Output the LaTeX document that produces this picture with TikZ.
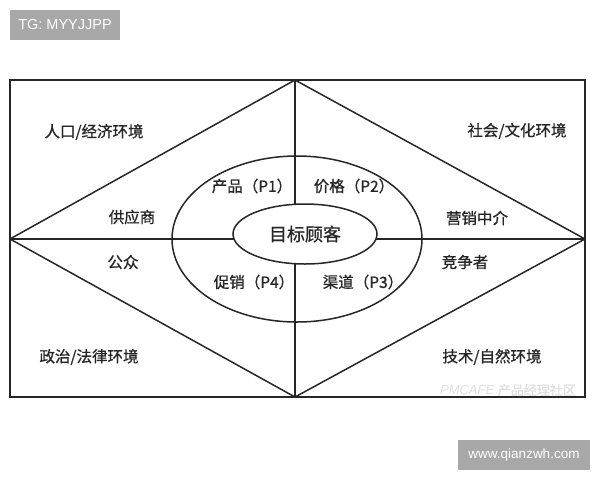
\documentclass[tikz,border=0pt]{standalone}
\usepackage{fontspec}
\setmainfont{Liberation Sans}
\newfontfamily\cjk[FakeBold=0.8]{Noto Sans CJK SC}
\usetikzlibrary{shapes.geometric}
\begin{document}
\begin{tikzpicture}[x=1pt,y=-1pt,
  ln/.style={line width=1.5pt, draw=black!85},
  lbl/.style={font=\cjk\fontsize{15.5}{17}\selectfont, inner sep=0pt, text=black!85},
  tag/.style={fill=black!34, text=white, inner sep=0pt}]
\useasboundingbox (0,0) rectangle (600,480);
% corners and vertices
\coordinate (TL) at (10,80);
\coordinate (BR) at (585,397);
\coordinate (L) at (10,239);
\coordinate (T) at (295,80);
\coordinate (R) at (585,239);
\coordinate (B) at (295,397);
% frame and diamond
\draw[ln] (TL) rectangle (BR);
\draw[ln, line join=round] (L) -- (T) -- (R) -- (B) -- cycle;
\draw[ln] (L) -- (R);
\draw[ln] (T) -- (B);
% ellipses
\node[ln, ellipse, minimum width=250pt, minimum height=166pt, inner sep=0pt] (outer) at (297,239) {};
\node[ln, ellipse, fill=white, minimum width=144pt, minimum height=60pt, inner sep=0pt,
      font=\cjk\fontsize{18}{20}\selectfont, text=black!85] (inner) at (305,234) {目标顾客};
% labels
\node[lbl] (eco) at (94,132) {人口/经济环境};
\node[lbl] (soc) at (517,131) {社会/文化环境};
\node[lbl] (sup) at (132,217) {供应商};
\node[lbl] (mid) at (477,218) {营销中介};
\node[lbl] (p1) at (252,186) {产品（P1）};
\node[lbl] (p2) at (354,186) {价格（P2）};
\node[lbl] (pub) at (123,262) {公众};
\node[lbl] (p4) at (254,282) {促销（P4）};
\node[lbl] (p3) at (363,282) {渠道（P3）};
\node[lbl] (comp) at (465,262) {竞争者};
\node[lbl] (pol) at (89,357) {政治/法律环境};
\node[lbl] (tech) at (492,357) {技术/自然环境};
% watermark
\node[font=\fontsize{13}{15}\selectfont\itshape, text=black!13, inner sep=0pt] (wm) at (508,390) {PMCAFE {\cjk\upshape 产品经理社区}};
% tags
\node[tag, font=\fontsize{14.5}{16}\selectfont, minimum width=110pt, minimum height=30pt] (tg) at (65,25) {TG: MYYJJPP};
\node[tag, font=\fontsize{13.5}{15}\selectfont, minimum width=132pt, minimum height=30pt] (web) at (524,455) {www.qianzwh.com};
\end{tikzpicture}
\end{document}
